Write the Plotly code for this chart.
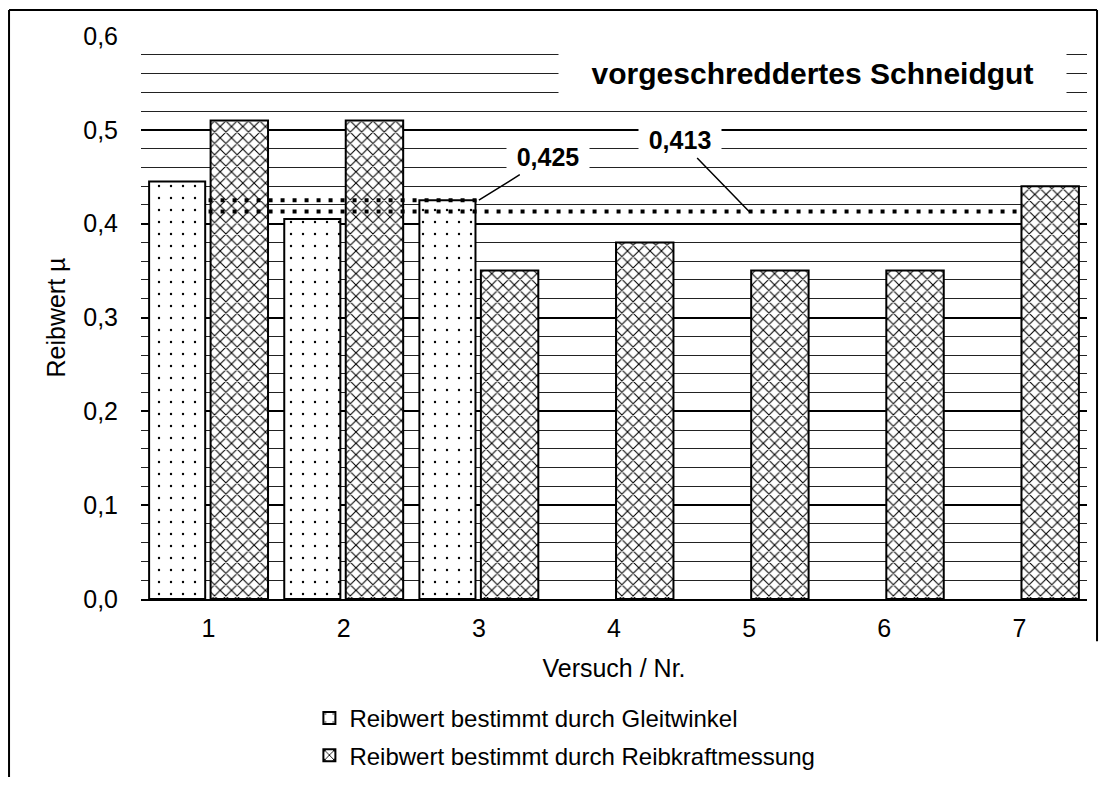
import plotly.graph_objects as go

# ---- data ----
versuche_gleit = [1, 2, 3]
reibwert_gleit = [0.445, 0.405, 0.425]
versuche_kraft = [1, 2, 3, 4, 5, 6, 7]
reibwert_kraft = [0.51, 0.51, 0.35, 0.38, 0.35, 0.35, 0.44]
mittel_gleit = 0.425
mittel_kraft = 0.413
x_ticks = [1, 2, 3, 4, 5, 6, 7]
name_gleit = "Reibwert bestimmt durch Gleitwinkel"
name_kraft = "Reibwert bestimmt durch Reibkraftmessung"
titel = "vorgeschreddertes Schneidgut"

FONT = "Liberation Sans, Arial, sans-serif"

fig = go.Figure()

fig.add_trace(go.Bar(
    x=versuche_gleit, y=reibwert_gleit, name=name_gleit,
    offset=-0.44, width=0.415,
    marker=dict(color="white", line=dict(color="black", width=2),
                pattern=dict(shape=".", fgcolor="black", bgcolor="white",
                             size=12, solidity=0.03, fillmode="replace")),
    legendgroup="a",
))
fig.add_trace(go.Bar(
    x=versuche_kraft, y=reibwert_kraft, name=name_kraft,
    offset=0.015, width=0.425,
    marker=dict(color="white", line=dict(color="black", width=2),
                pattern=dict(shape="x", fgcolor="black", bgcolor="white",
                             size=8, solidity=0.25, fillmode="replace")),
    legendgroup="b",
))

# mean lines
fig.add_trace(go.Scatter(
    x=[versuche_gleit[0], versuche_gleit[-1]], y=[mittel_gleit, mittel_gleit],
    mode="lines", line=dict(color="black", width=4, dash="4px,8px"),
    showlegend=False, hoverinfo="skip"))
fig.add_trace(go.Scatter(
    x=[versuche_kraft[0], versuche_kraft[-1]], y=[mittel_kraft, mittel_kraft],
    mode="lines", line=dict(color="black", width=4, dash="4px,8px"),
    showlegend=False, hoverinfo="skip"))

fmt = lambda v: f"{v:.3f}".replace(".", ",")

fig.add_annotation(x=versuche_gleit[-1], y=mittel_gleit, text="<b>" + fmt(mittel_gleit) + "</b>",
                   showarrow=True, arrowhead=0, arrowwidth=1.5, arrowcolor="black",
                   ax=69, ay=-43, bgcolor="white", width=80, height=32,
                   font=dict(family=FONT, size=25, color="black"))
fig.add_annotation(x=5, y=mittel_kraft, text="<b>" + fmt(mittel_kraft) + "</b>",
                   showarrow=True, arrowhead=0, arrowwidth=1.5, arrowcolor="black",
                   ax=-69, ay=-71, bgcolor="white", width=80, height=32,
                   font=dict(family=FONT, size=25, color="black"))
fig.add_annotation(x=5.47, y=0.561, text="<b>" + titel + "</b>", showarrow=False,
                   bgcolor="white", width=505, height=52,
                   font=dict(family=FONT, size=30, color="black"))

# outer frame
for x0, y0, x1, y1 in [(-0.1395, -0.40, -0.1395, 1.0462),
                       (-0.1395, 1.0462, 1.0106, 1.0462),
                       (1.0106, 1.0462, 1.0106, -0.075)]:
    fig.add_shape(type="line", xref="paper", yref="paper", x0=x0, y0=y0, x1=x1, y1=y1,
                  line=dict(color="black", width=2))

fig.update_layout(
    width=1092, height=769,
    margin=dict(l=133, r=13, t=28, b=178, autoexpand=False),
    paper_bgcolor="white", plot_bgcolor="white",
    barmode="overlay",
    separators=",.",
    font=dict(family=FONT, color="black", size=24),
    showlegend=True,
    legend=dict(x=0.178, y=-0.172, xanchor="left", yanchor="top",
                font=dict(family=FONT, size=24, color="black"),
                tracegroupgap=3, bgcolor="rgba(0,0,0,0)"),
    xaxis=dict(range=[0.5, 7.5], tickvals=x_ticks, ticktext=[str(v) for v in x_ticks],
               showgrid=False, zeroline=False, showline=True, linecolor="black", linewidth=2,
               ticks="", tickfont=dict(size=25), ticklabelstandoff=6,
               title=dict(text="Versuch / Nr.", font=dict(size=25), standoff=18)),
    yaxis=dict(range=[0, 0.6], dtick=0.1, tickformat=".1f",
               showgrid=True, gridcolor="black", gridwidth=2,
               minor=dict(dtick=0.02, showgrid=True, gridcolor="#222", gridwidth=1),
               zeroline=False, showline=False, ticks="", tickfont=dict(size=25),
               ticklabelstandoff=22,
               title=dict(text="Reibwert µ", font=dict(size=25), standoff=10)),
)

fig.write_html("out.html")
